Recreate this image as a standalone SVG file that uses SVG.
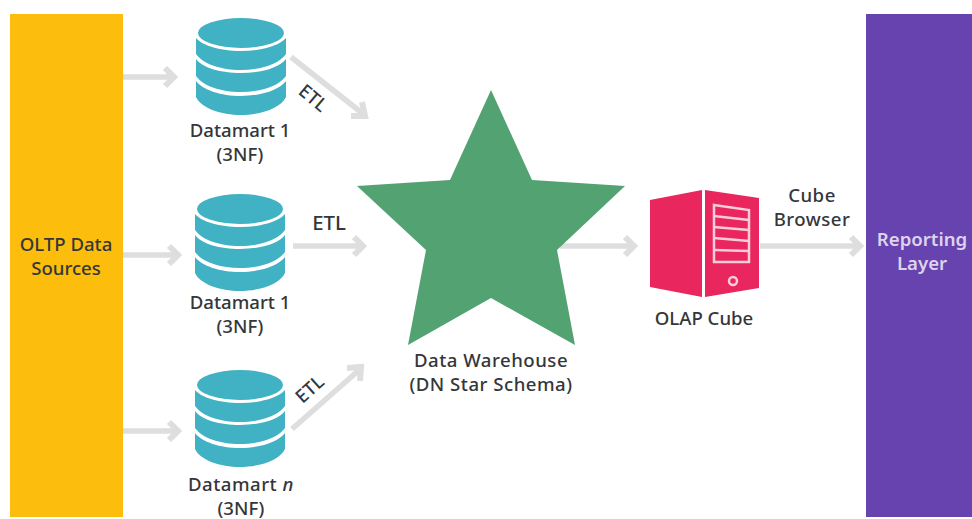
<svg xmlns="http://www.w3.org/2000/svg" xmlns:xlink="http://www.w3.org/1999/xlink" width="972" height="519" viewBox="0 0 972 519">
<style>
text{font-family:"Noto Sans","Open Sans","Liberation Sans",sans-serif;font-weight:500;fill:#34373a;font-size:18.6px;text-anchor:middle}
.b{letter-spacing:.5px}
.m{font-size:20.4px}
.l{fill:#dcd4ee;font-weight:600}
.c{fill:none;stroke:#dedede;stroke-width:5.5}
.h{fill:none;stroke:#dedede;stroke-width:6}
.r{fill:none;stroke:#f8cdd8;stroke-width:2.5}
</style>
<defs>
<g id="db" fill="#41b1c4">
<ellipse cx="0" cy="15" rx="43" ry="15"/>
<path d="M-45 20C-38 28 -20 33 0 33S38 28 45 20V36C38 46 20 52 0 52S-38 46 -45 36Z"/>
<path d="M-45 41C-38 50 -20 55 0 55S38 50 45 41V58C38 68 20 74 0 74S-38 68 -45 58Z"/>
<path d="M-45 63C-38 72 -20 78 0 78S38 72 45 63V79C40 90 20 97 0 97S-40 90 -45 79Z"/>
</g>
</defs>
<rect width="972" height="519" fill="#fff"/>
<g id="connectors">
<path class="c" d="M123 77H170"/><path class="h" d="M165 68L174 77L165 86"/>
<path class="c" d="M291 57L362 113"/><path class="h" d="M351 116L365 116L362 102"/>
<path class="c" d="M123 255H174"/><path class="h" d="M169 246L178 255L169 264"/>
<path class="c" d="M293 246H359"/><path class="h" d="M354 237L363 246L354 255"/>
<path class="c" d="M123 431H174"/><path class="h" d="M169 422L178 431L169 440"/>
<path class="c" d="M292 429L358 371"/><path class="h" d="M347 368L361 367L360 381"/>
<path class="c" d="M560 246H630"/><path class="h" d="M625 237L634 246L625 255"/>
<path class="c" d="M760 246H856"/><path class="h" d="M851 237L860 246L851 255"/>
</g>
<g id="oltp"><rect x="10" y="14" width="113" height="503" fill="#fdbd0d"/>
<text x="66" y="251">OLTP Data</text><text x="66" y="275">Sources</text></g>
<g id="datamart-1"><use xlink:href="#db" href="#db" x="241" y="18"/>
<text x="240" y="137">Datamart 1</text><text x="240" y="161">(3NF)</text></g>
<g id="datamart-2"><use xlink:href="#db" href="#db" x="240" y="194"/>
<text x="240" y="309">Datamart 1</text><text x="240" y="333">(3NF)</text></g>
<g id="datamart-n"><use xlink:href="#db" href="#db" x="240" y="370"/>
<text class="b" x="241" y="491">Datamart <tspan font-style="italic">n</tspan></text><text x="241" y="515">(3NF)</text></g>
<g id="etl-labels">
<text transform="translate(309 103) rotate(40)">ETL</text>
<text class="m" x="329" y="230">ETL</text>
<text transform="translate(314 394) rotate(-42)">ETL</text>
</g>
<g id="warehouse"><polygon points="491,90 532,180 625,186 557,250 575,345 491,298 408,345 426,250 357,186 450,180" fill="#53a272"/>
<text class="b" x="491" y="367">Data Warehouse</text><text class="b" x="491" y="391">(DN Star Schema)</text></g>
<g id="olap"><polygon points="650,200 702,190 702,297 650,287" fill="#e9265e"/><polygon points="705,190 759,198 759,288 705,297" fill="#e9265e"/>
<polygon class="r" points="714,205 749,210 749,262 714,262"/><path class="r" d="M714,216 L749,220M714,227 L749,230M714,238 L749,241M714,250 L749,251"/>
<circle class="r" cx="733" cy="281" r="4"/>
<text x="704" y="325">OLAP Cube</text></g>
<g id="cube-browser"><text class="b" x="812" y="202">Cube</text><text class="b" x="812" y="226">Browser</text></g>
<g id="reporting"><rect x="866" y="14" width="106" height="503" fill="#6743b0"/>
<text class="l" x="922" y="246">Reporting</text><text class="l" x="922" y="270">Layer</text></g>
</svg>
